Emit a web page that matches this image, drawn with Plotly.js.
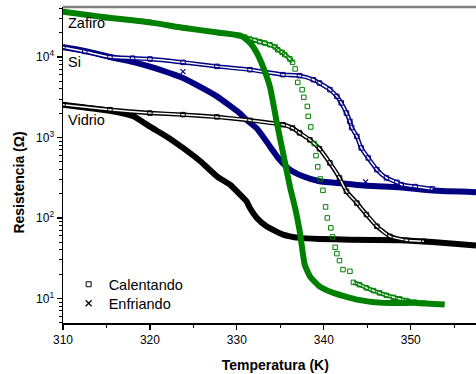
<!DOCTYPE html>
<html>
<head>
<meta charset="utf-8">
<script src="https://cdn.plot.ly/plotly-3.0.1.min.js"></script>
<style>
html,body{margin:0;padding:0;background:#fff;overflow:hidden;}
#chart{width:476px;height:374px;}
</style>
</head>
<body>
<div id="chart"></div>
<script>
// ---- Data (Temperature in K, Resistance in Ohm) ----
// Zafiro (sapphire) - heating (Calentando, squares)
const zafiroHeatT = [310, 315, 320, 324, 328, 330.3, 330.9, 331.5, 332.1, 332.6, 333.2, 333.8, 334.4, 334.7, 335.2, 335.5, 336.1, 336.4, 336.7, 337.0, 337.5, 337.7, 338.1, 338.2, 338.5, 338.9, 339.1, 339.3, 339.6, 339.9, 340.2, 340.4, 340.8, 341.0, 341.3, 341.5, 341.8, 342.2, 343.0, 343.4, 344.1, 344.9, 345.7, 346.4, 347.2, 348.0, 348.7, 349.5, 350.5, 351.5];
const zafiroHeatR = [36600, 30900, 26900, 22900, 20000, 18400, 17700, 16700, 16100, 15500, 14900, 14200, 13300, 12300, 11400, 10700, 9440, 8570, 7100, 4830, 3930, 3150, 2430, 1830, 1350, 838, 594, 431, 305, 220, 137, 100, 75.2, 58.1, 43.2, 36.0, 29.5, 22.8, 21.7, 15.8, 14.8, 13.5, 12.5, 11.7, 10.9, 10.3, 9.86, 9.40, 8.95, 8.71];
// Zafiro - cooling (Enfriando, crosses)
const zafiroCoolT = [310, 315, 320, 324, 328, 330.5, 331.5, 332.3, 333.0, 333.8, 334.6, 335.3, 336.1, 336.7, 337.2, 337.6, 337.8, 338.4, 339.5, 341.1, 343.8, 346.8, 350.7, 353.9];
const zafiroCoolR = [36600, 30900, 26900, 22900, 20000, 18200, 15100, 11200, 7590, 4270, 1510, 646, 245, 132, 70.8, 35.5, 26.3, 18.8, 14.1, 11.7, 9.66, 8.79, 8.79, 8.41];

// Si - heating
const siHeatT = [310, 312.5, 315.4, 318, 320, 323.8, 327.7, 331.5, 335.3, 337.2, 338.8, 339.5, 340.7, 341.5, 342.0, 342.6, 343.0, 343.2, 343.8, 344.3, 345.1, 346.1, 347.2, 348.4, 348.9, 350.5, 352.5];
const siHeatR = [13200, 11700, 10000, 9660, 9440, 8570, 7640, 6950, 6030, 5860, 5220, 4750, 3930, 3240, 2690, 2010, 1580, 1330, 1030, 741, 556, 398, 314, 277, 259, 245, 229];
// Si - cooling
const siCoolT = [310, 312.5, 315.4, 318, 320, 323.8, 327.7, 330.3, 331.1, 332.3, 333.8, 334.9, 336.1, 337.6, 339.5, 341, 345, 348.7, 352.5, 357.5];
const siCoolR = [13200, 11900, 10000, 8710, 7590, 5480, 3240, 2010, 1660, 1290, 774, 530, 398, 329, 285, 275, 251, 240, 219, 209];
// Si - isolated cooling points
const siCoolStrayT = [323.8, 344.8];
const siCoolStrayR = [6560, 280];

// Vidrio (glass) - heating
const vidrioHeatT = [310, 315.4, 320, 323.8, 327.7, 331.5, 335.3, 336.4, 337.2, 338.4, 339.5, 340.7, 341.8, 342.6, 343.8, 344.9, 346.1, 347.6, 349.5, 351.5];
const vidrioHeatR = [2550, 2210, 2010, 1920, 1800, 1630, 1440, 1310, 1140, 933, 724, 482, 314, 214, 153, 110, 78.7, 59.0, 52.7, 51.3];
// Vidrio - cooling
const vidrioCoolT = [310, 315.4, 318.1, 320, 321.9, 323.8, 325.8, 327.7, 329.2, 330.0, 331.1, 331.5, 332.3, 333.4, 335.3, 337.2, 339.5, 343, 348.7, 352.5, 357.5];
const vidrioCoolR = [2550, 2140, 1830, 1360, 1030, 741, 505, 329, 259, 214, 161, 133, 100, 78.7, 62.1, 56.5, 54.8, 53.7, 52.7, 50.1, 45.3];

const seriesLabels = ['Calentando', 'Enfriando'];
const materialLabels = ['Zafiro', 'Si', 'Vidrio'];
const yTickVals = [10, 100, 1000, 10000];
const yTickText = ['10<sup>1</sup>', '10<sup>2</sup>', '10<sup>3</sup>', '10<sup>4</sup>'];
const xTickVals = [310, 320, 330, 340, 350];
const xTitle = 'Temperatura (K)';
const yTitle = 'Resistencia (Ω)';

// ---- Styling ----
const FONT = 'Liberation Sans, Arial, Helvetica, sans-serif';
const GREEN = '#008000', NAVY = '#000080', BLACK = '#000000';
const NB = '\u00a0';

function coolBand(T, R, color) {
  return {x: T, y: R, type: 'scatter', mode: 'lines', showlegend: false, hoverinfo: 'skip',
          line: {color: color, width: 6, shape: 'spline', smoothing: 0.5}};
}
function heatBand(T, R, color, skip) {
  const xs = [], ys = [];
  T.forEach((t, i) => {
    if (skip && t > skip[0] && t < skip[1]) { xs.push(null); ys.push(null); }
    else { xs.push(t); ys.push(R[i]); }
  });
  return [
    {x: xs, y: ys, type: 'scatter', mode: 'lines', showlegend: false, hoverinfo: 'skip', connectgaps: false,
     line: {color: color, width: 4.4, shape: 'spline', smoothing: 0.5}},
    {x: xs, y: ys, type: 'scatter', mode: 'lines', showlegend: false, hoverinfo: 'skip', connectgaps: false,
     line: {color: '#ffffff', width: 1.5, shape: 'spline', smoothing: 0.5}}
  ];
}
function heatMarks(T, R, color) {
  return {x: T, y: R, type: 'scatter', mode: 'markers', showlegend: false, hoverinfo: 'skip',
          marker: {symbol: 'square-open', size: 4.5, color: color, line: {width: 1, color: color}}};
}

const data = [
  coolBand(siCoolT, siCoolR, NAVY),
  {x: siCoolStrayT, y: siCoolStrayR, type: 'scatter', mode: 'markers', showlegend: false,
   marker: {symbol: 'x-thin', size: 5, color: NAVY, line: {width: 1.2, color: NAVY}}},
  coolBand(vidrioCoolT, vidrioCoolR, BLACK),
  ...heatBand(siHeatT, siHeatR, NAVY, null),
  heatMarks(siHeatT, siHeatR, NAVY),
  ...heatBand(vidrioHeatT, vidrioHeatR, BLACK, null),
  heatMarks(vidrioHeatT, vidrioHeatR, BLACK),
  ...heatBand(zafiroHeatT, zafiroHeatR, GREEN, [336.5, 343.3]),
  heatMarks(zafiroHeatT, zafiroHeatR, GREEN),
  coolBand(zafiroCoolT, zafiroCoolR, GREEN),
  // legend entries
  {x: [null], y: [null], type: 'scatter', mode: 'markers', name: seriesLabels[0], legend: 'legend',
   marker: {symbol: 'square-open', size: 5, color: BLACK, line: {width: 1, color: BLACK}}},
  {x: [null], y: [null], type: 'scatter', mode: 'markers', name: seriesLabels[1], legend: 'legend2',
   marker: {symbol: 'x-thin', size: 6, color: BLACK, line: {width: 1.2, color: BLACK}}}
];

const minorY = [];
for (let k = 0; k <= 4; k++) for (let m = 2; m <= 9; m++) minorY.push(m * Math.pow(10, k));

const legendFont = {family: FONT, size: 14.5, color: '#000'};
const layout = {
  width: 476, height: 374,
  margin: {l: 63, r: 0, t: 7, b: 51},
  paper_bgcolor: '#ffffff', plot_bgcolor: '#ffffff',
  font: {family: FONT, size: 12, color: '#000'},
  showlegend: true,
  legend: {x: 0.05, y: 0.173, xanchor: 'left', yanchor: 'top', bgcolor: 'rgba(0,0,0,0)',
           font: legendFont, itemwidth: 30, indentation: -15},
  legend2: {x: 0.05, y: 0.113, xanchor: 'left', yanchor: 'top', bgcolor: 'rgba(0,0,0,0)',
           font: legendFont, itemwidth: 30, indentation: -15},
  xaxis: {
    range: [310, 357.5], tickmode: 'array', tickvals: xTickVals,
    ticks: 'outside', ticklen: 5, tickwidth: 1.2, tickcolor: '#000',
    showline: true, linecolor: '#000', linewidth: 1.5, showgrid: false, zeroline: false,
    tickfont: {family: FONT, size: 12, color: '#000'},
    minor: {tickmode: 'array', tickvals: [315, 325, 335, 345, 355], ticks: 'outside', ticklen: 3, tickwidth: 1.2, tickcolor: '#000', showgrid: false},
    title: {text: '<b>' + NB + NB + NB + xTitle + '</b>', font: {family: FONT, size: 14, color: '#000'}, standoff: 14}
  },
  yaxis: {
    type: 'log', range: [0.694, 4.621], tickmode: 'array', tickvals: yTickVals, ticktext: yTickText,
    ticks: 'outside', ticklen: 5, tickwidth: 1.2, tickcolor: '#000',
    showline: true, linecolor: '#000', linewidth: 1.5, showgrid: false, zeroline: false,
    tickfont: {family: FONT, size: 12, color: '#000'},
    minor: {tickmode: 'array', tickvals: minorY, ticks: 'outside', ticklen: 3, tickwidth: 1, tickcolor: '#000', showgrid: false},
    title: {text: '<b>' + yTitle + NB.repeat(9) + '</b>', font: {family: FONT, size: 14, color: '#000'}, standoff: 8}
  },
  shapes: [
    {type: 'line', xref: 'paper', yref: 'paper', x0: 0, x1: 1, y0: 1, y1: 1, line: {color: '#808080', width: 2.3}}
  ],
  annotations: [
    {text: materialLabels[0], xref: 'paper', yref: 'paper', x: 0.008, y: 0.949, xanchor: 'left', yanchor: 'middle', showarrow: false, font: {family: FONT, size: 14.5, color: '#000'}},
    {text: materialLabels[1], xref: 'paper', yref: 'paper', x: 0.008, y: 0.826, xanchor: 'left', yanchor: 'middle', showarrow: false, font: {family: FONT, size: 14.5, color: '#000'}},
    {text: materialLabels[2], xref: 'paper', yref: 'paper', x: 0.008, y: 0.642, xanchor: 'left', yanchor: 'middle', showarrow: false, font: {family: FONT, size: 14.5, color: '#000'}}
  ]
};

Plotly.newPlot('chart', data, layout, {staticPlot: true, displayModeBar: false});
</script>
</body>
</html>
